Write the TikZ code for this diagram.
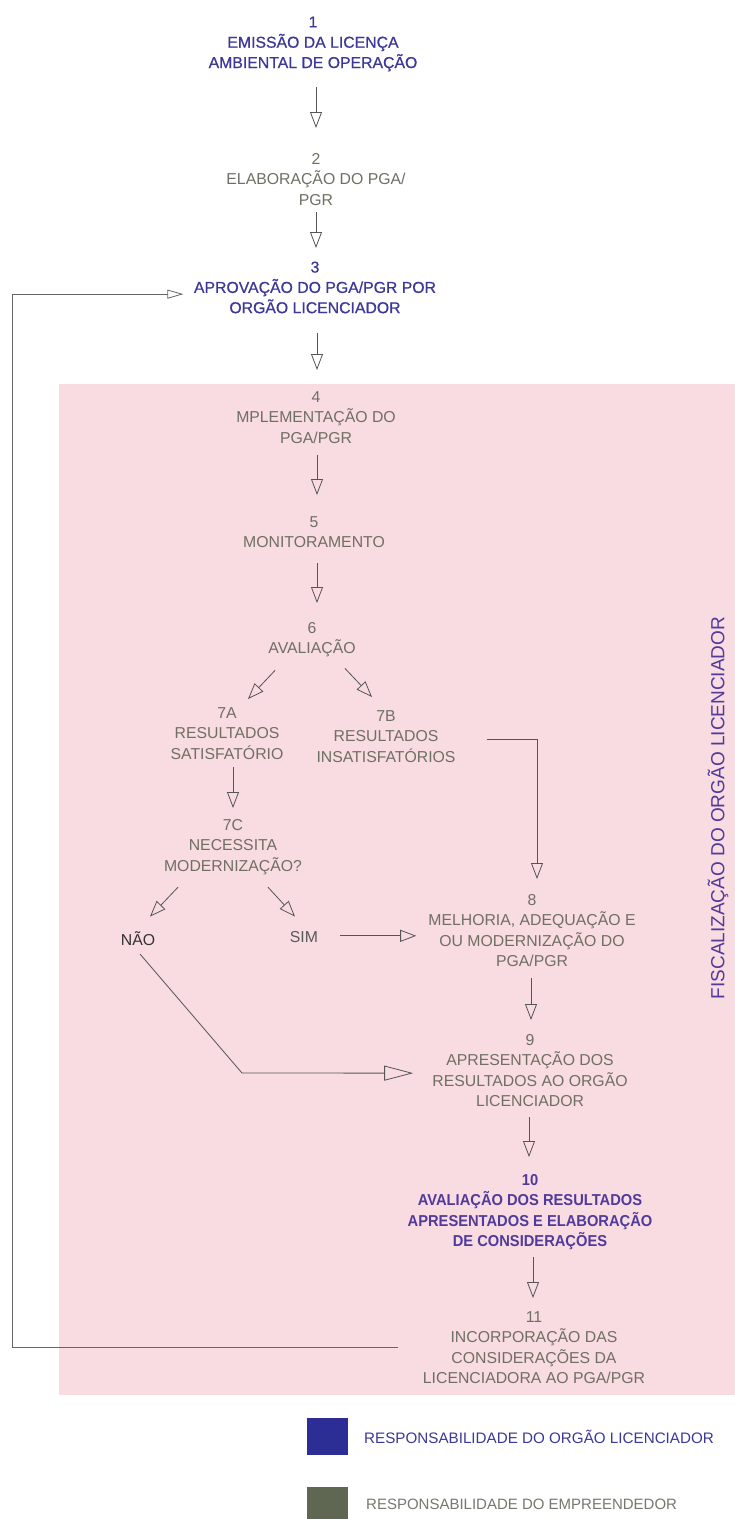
\documentclass[tikz,border=0pt]{standalone}
\usepackage{fontspec}
\setmainfont{Liberation Sans}
\newfontfamily\condbold{Liberation Sans}[FakeStretch=0.93]
\newfontfamily\semib{Liberation Sans}[FakeBold=0.6]
\usetikzlibrary{arrows.meta,calc}
\definecolor{bluet}{HTML}{3B389A}
\definecolor{purp}{HTML}{503A9A}
\definecolor{grayt}{HTML}{6F6F63}
\definecolor{pinkbg}{HTML}{F9DBE2}
\definecolor{arrc}{HTML}{555555}
\definecolor{fbc}{HTML}{666666}
\definecolor{legblue}{HTML}{2D2D96}
\definecolor{leggray}{HTML}{5F6652}
\definecolor{legtxt}{HTML}{77776F}
\newcommand\fs{\fontsize{15.8pt}{20.3pt}\selectfont}
\tikzset{
  txt/.style={align=center, inner sep=0pt, font=\fs, anchor=north},
  gtxt/.style={txt, text=grayt},
  btxt/.style={txt, text=bluet, font=\fs\semib},
  word/.style={inner sep=0pt, font=\fs, text height=11.3pt, text depth=0pt, anchor=south},
  arr/.style={draw=arrc, line width=0.8pt, -{Triangle[open, length=16pt, width=12pt, line width=0.8pt]}},
  bigarr/.style={draw=arrc, line width=0.8pt, -{Triangle[open, length=29pt, width=15pt, line width=0.8pt]}},
  fbarr/.style={draw=fbc, line width=0.8pt, -{Triangle[open, length=16pt, width=9pt, line width=0.8pt]}},
}
\begin{document}
\begin{tikzpicture}[x=1pt,y=-1pt]
\useasboundingbox (0,0) rectangle (735,1519);
\fill[white] (0,0) rectangle (735,1519);
% pink zone
\fill[pinkbg] (59,384) rectangle (735,1395);
% nodes
\node[btxt] (n1) at (313,16.35) {1\\EMISSÃO DA LICENÇA\\AMBIENTAL DE OPERAÇÃO};
\node[gtxt] (n2) at (316,153.35) {2\\ELABORAÇÃO DO PGA/\\PGR};
\node[btxt] (n3) at (315,261.35) {3\\APROVAÇÃO DO PGA/PGR POR\\ORGÃO LICENCIADOR};
\node[gtxt] (n4) at (316,391.35) {4\\MPLEMENTAÇÃO DO\\PGA/PGR};
\node[gtxt] (n5) at (314,516.35) {5\\MONITORAMENTO};
\node[gtxt] (n6) at (312,622.35) {6\\AVALIAÇÃO};
\node[gtxt] (n7a) at (227,707.35) {7A\\RESULTADOS\\SATISFATÓRIO};
\node[gtxt] (n7b) at (386,710.35) {7B\\RESULTADOS\\INSATISFATÓRIOS};
\node[gtxt] (n7c) at (233,819.35) {7C\\NECESSITA\\MODERNIZAÇÃO?};
\node[word, text=black!80] (nao) at (138,945.65) {NÃO};
\node[word, text=black!65] (sim) at (304,942.65) {SIM};
\node[gtxt] (n8) at (532,894.35) {8\\MELHORIA, ADEQUAÇÃO E\\OU MODERNIZAÇÃO DO\\PGA/PGR};
\node[gtxt] (n9) at (530,1034.35) {9\\APRESENTAÇÃO DOS\\RESULTADOS AO ORGÃO\\LICENCIADOR};
\node[txt, text=purp, font=\fs\condbold\bfseries] (n10) at (530,1174.35) {10\\AVALIAÇÃO DOS RESULTADOS\\APRESENTADOS E ELABORAÇÃO\\DE CONSIDERAÇÕES};
\node[gtxt] (n11) at (534,1311.35) {11\\INCORPORAÇÃO DAS\\CONSIDERAÇÕES DA\\LICENCIADORA AO PGA/PGR};
\node[rotate=90, inner sep=0pt, text=purp, font=\fontsize{19pt}{22pt}\selectfont] (fisc) at (718,808) {FISCALIZAÇÃO DO ORGÃO LICENCIADOR};
% legend
\node[draw=none, fill=legblue, minimum width=41pt, minimum height=37pt, inner sep=0pt, anchor=north west] (lb) at (307,1418) {};
\node[anchor=west, inner sep=0pt, text=bluet, font=\fontsize{15.2pt}{18pt}\selectfont] (lbt) at (364,1437) {RESPONSABILIDADE DO ORGÃO LICENCIADOR};
\node[draw=none, fill=leggray, minimum width=41pt, minimum height=33pt, inner sep=0pt, anchor=north west] (lg) at (307,1487) {};
\node[anchor=west, inner sep=0pt, text=legtxt, font=\fontsize{15pt}{18pt}\selectfont] (lgt) at (366,1504) {RESPONSABILIDADE DO EMPREENDEDOR};
% connectors
\draw[arr] ([xshift=3pt,yshift=-15.4pt]n1.south) -- ([yshift=25.35pt]n2.north);
\draw[arr] ([yshift=-6.7pt]n2.south) -- ([xshift=1pt,yshift=13.35pt]n3.north);
\draw[arr] ([xshift=2pt,yshift=-19.7pt]n3.south) -- ([xshift=1pt,yshift=21.35pt]n4.north);
\draw[arr] ([xshift=1pt,yshift=-11.5pt]n4.south) -- ([xshift=3pt,yshift=21.35pt]n5.north);
\draw[arr] ([xshift=3pt,yshift=-15pt]n5.south) -- ([xshift=5pt,yshift=19.35pt]n6.north);
\draw[arr] ([xshift=-37pt,yshift=-13pt]n6.south) -- ([xshift=21pt,yshift=8.35pt]n7a.north);
\draw[arr] ([xshift=33pt,yshift=-11pt]n6.south) -- ([xshift=-14pt,yshift=13.35pt]n7b.north);
\draw[arr] ([xshift=6pt,yshift=-7.75pt]n7a.south) -- ([yshift=11.35pt]n7c.north);
\draw[arr] ([xshift=31pt,yshift=-2.7pt]n7b.east) -| ([xshift=5pt,yshift=15.35pt]n8.north);
\draw[arr] ([xshift=-55pt,yshift=-12.45pt]n7c.south) -- ([xshift=12pt,yshift=17.35pt]nao.north);
\draw[arr] ([xshift=35pt,yshift=-12.45pt]n7c.south) -- ([xshift=-9pt,yshift=14.35pt]sim.north);
\draw[arr, shorten <=22pt, shorten >=12pt] ([yshift=1pt]sim.east) -- ([yshift=1pt]sim.east -| n8.west);
\draw[bigarr] ([xshift=2pt,yshift=-8.35pt]nao.south) -- ++(102,119) -- ([xshift=-19pt,yshift=-2.55pt]n9.west);
\draw[arr] ([xshift=-1pt,yshift=-11.45pt]n8.south) -- ([xshift=1pt,yshift=14.35pt]n9.north);
\draw[arr] ([xshift=-1pt,yshift=-10.45pt]n9.south) -- ([xshift=-1pt,yshift=17.35pt]n10.north);
\draw[arr] ([xshift=3pt,yshift=-7.15pt]n10.south) -- ([xshift=-1pt,yshift=13.35pt]n11.north);
\draw[fbarr] ([xshift=-24.4pt]n11.west) -| ([xshift=-181.4pt,yshift=-6.7pt]n3.west) -- ([xshift=-10.4pt,yshift=-6.7pt]n3.west);
\end{tikzpicture}
\end{document}
